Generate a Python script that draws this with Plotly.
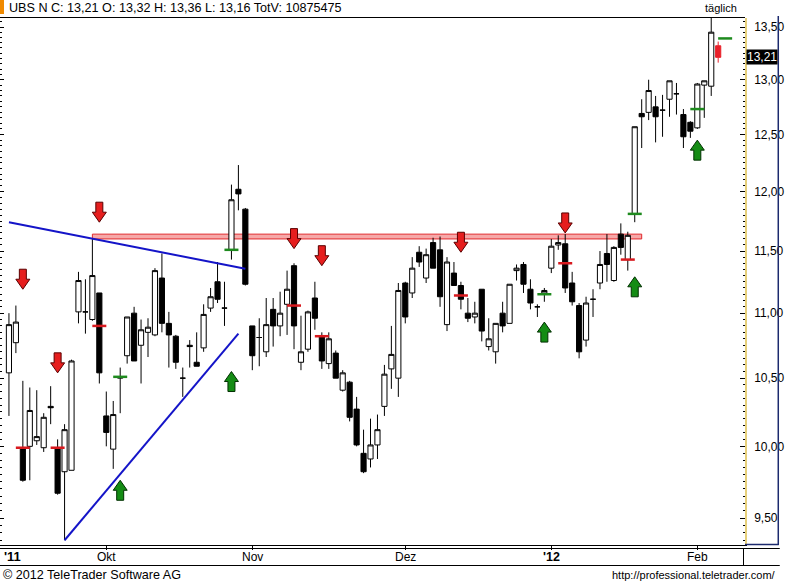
import numpy as np
import pandas as pd
import plotly.graph_objects as go

# ---------------- data ----------------
holidays = ["2011-12-26", "2012-01-02"]
dates = [d.strftime("%Y-%m-%d") for d in pd.bdate_range("2011-09-13", "2012-02-06")
         if d.strftime("%Y-%m-%d") not in holidays]

opens = [10.54, 10.77, 9.99, 10.00, 10.04, 9.99, 10.29, 9.99, 9.82, 9.83,
         11.01, 11.01, 10.95, 11.16, 10.22, 9.98, 10.50, 10.67, 11.00, 10.75,
         10.85, 10.83, 11.28, 10.92, 10.82, 10.50, 10.75, 10.62, 10.73, 11.04,
         11.25, 11.04, 11.51, 12.02, 11.85, 10.90, 10.81, 10.70, 11.03, 10.90,
         11.07, 11.38, 10.62, 10.72, 11.12, 10.82, 10.61, 10.69, 10.41, 10.47,
         10.27, 9.95, 9.91, 10.01, 10.29, 10.57, 10.50, 11.24, 11.16, 11.49,
         11.28, 11.57, 11.51, 10.91, 11.32, 11.22, 11.00, 10.97, 11.19, 10.74,
         10.70, 11.00, 10.92, 11.34, 11.39, 11.19, 11.05, 11.16, 11.36, 11.55,
         11.56, 11.24, 11.06, 10.79, 11.11, 11.24, 11.48, 11.26, 11.64, 11.43,
         11.81, 12.69, 12.70, 12.75, 12.72, 12.82, 12.87, 12.68, 12.61, 12.56,
         12.95, 12.94, 13.32]
highs = [11.00, 11.06, 10.48, 10.43, 10.41, 10.24, 10.44, 10.05, 10.16, 10.64,
         11.33, 11.27, 11.60, 11.16, 10.40, 10.33, 10.58, 10.97, 11.05, 10.95,
         10.96, 11.36, 11.48, 11.01, 10.83, 10.58, 10.79, 10.85, 11.07, 11.20,
         11.41, 11.25, 12.06, 12.23, 11.86, 10.90, 10.96, 11.12, 11.12, 11.17,
         11.34, 11.40, 10.98, 11.02, 11.25, 10.85, 10.85, 10.71, 10.56, 10.48,
         10.36, 10.12, 10.20, 10.23, 10.60, 10.90, 11.24, 11.25, 11.45, 11.54,
         11.52, 11.61, 11.62, 11.45, 11.41, 11.25, 11.12, 11.09, 11.19, 10.96,
         10.92, 11.09, 11.23, 11.39, 11.41, 11.27, 11.07, 11.20, 11.60, 11.63,
         11.64, 11.33, 11.08, 11.13, 11.19, 11.50, 11.64, 11.54, 11.73, 11.66,
         12.57, 12.82, 13.00, 12.85, 12.86, 12.99, 12.97, 12.73, 12.62, 12.97,
         12.99, 13.60, 13.36]
lows = [10.22, 10.69, 9.75, 9.76, 10.01, 9.96, 10.16, 9.66, 9.35, 9.83,
        10.92, 10.84, 10.94, 10.46, 10.00, 9.84, 10.24, 10.61, 10.63, 10.46,
        10.66, 10.82, 10.85, 10.58, 10.57, 10.36, 10.58, 10.59, 10.70, 11.01,
        11.08, 10.90, 11.43, 11.84, 11.22, 10.56, 10.59, 10.66, 10.74, 10.82,
        10.83, 10.72, 10.56, 10.70, 10.87, 10.57, 10.57, 10.50, 10.40, 10.18,
        10.00, 9.81, 9.85, 9.91, 10.22, 10.42, 10.36, 10.92, 11.12, 11.37,
        11.24, 11.36, 11.05, 10.86, 11.22, 11.03, 10.93, 10.92, 10.78, 10.71,
        10.61, 10.85, 10.92, 11.26, 11.16, 11.03, 10.97, 11.09, 11.32, 11.51,
        11.16, 11.06, 10.65, 10.74, 10.97, 11.19, 11.25, 11.25, 11.47, 11.34,
        11.74, 12.38, 12.63, 12.43, 12.48, 12.66, 12.68, 12.38, 12.47, 12.55,
        12.65, 12.85, 13.16]
closes = [10.91, 10.93, 9.76, 10.26, 10.07, 10.21, 10.28, 9.67, 10.12, 10.63,
          11.26, 11.01, 11.30, 10.54, 10.10, 10.23, 10.51, 10.97, 10.63, 10.87,
          10.89, 11.34, 10.92, 10.83, 10.62, 10.50, 10.74, 10.59, 10.99, 11.13,
          11.11, 11.04, 11.93, 11.98, 11.23, 10.67, 10.81, 10.91, 10.90, 11.00,
          11.19, 10.90, 10.70, 11.01, 10.96, 10.63, 10.80, 10.50, 10.54, 10.21,
          10.01, 9.82, 10.01, 10.12, 10.53, 10.68, 11.18, 10.97, 11.36, 11.41,
          11.47, 11.36, 11.13, 11.41, 11.22, 11.11, 10.96, 11.00, 10.86, 10.80,
          10.92, 10.90, 11.23, 11.36, 11.23, 11.08, 11.05, 11.18, 11.54, 11.57,
          11.20, 11.09, 10.70, 11.08, 11.11, 11.39, 11.39, 11.53, 11.53, 11.63,
          12.57, 12.66, 12.90, 12.66, 12.72, 12.99, 12.87, 12.48, 12.53, 12.96,
          12.99, 13.45, 13.21]

# signal dashes (sell = red, buy = green)
sell_idx = [2, 7, 13, 41, 45, 65, 80, 89]
sell_lvl = [9.99, 9.99, 10.90, 11.06, 10.82, 11.14, 11.40, 11.43]
buy_idx = [16, 32, 77, 90, 99, 103]
buy_lvl = [10.51, 11.51, 11.15, 11.81, 12.73, 13.39]

# arrows (tip price)
down_idx = [2, 7, 13, 41, 45, 65, 80]
down_tip = [11.19, 10.54, 11.74, 11.52, 11.38, 11.49, 11.65]
up_idx = [16, 32, 77, 90, 99]
up_tip = [9.76, 10.55, 10.93, 11.29, 12.45]

# trend lines and resistance band
upper_tl_x = [0, 34]
upper_tl_y = [11.74, 11.355]
lower_tl_x = [8, 33]
lower_tl_y = [9.35, 10.84]
band_x = [12, 91]
band_y = [11.60, 11.64]

month_starts = ["2011-10-03", "2011-11-01", "2011-12-01", "2012-01-03", "2012-02-01"]
month_labels = ["Okt", "Nov", "Dez", "<b>'12</b>", "Feb"]
y_ticks = [9.5, 10.0, 10.5, 11.0, 11.5, 12.0, 12.5, 13.0, 13.5]
y_ticktext = [f"{v:.2f}".replace(".", ",") for v in y_ticks]

title_text = "UBS N C: 13,21 O: 13,32 H: 13,36 L: 13,16 TotV: 10875475"

# ---------------- layout geometry ----------------
W, H = 785, 583
PL, PR, PT, PB = 0, 750, 18, 545          # plot area in pixels
pw, ph = PR - PL, PB - PT


def px_x(p):
    return (p - PL) / pw


def px_y(p):
    return (PB - p) / ph


x = list(range(len(dates)))
n = len(x)
FONT = "Liberation Sans, Arial, sans-serif"

fig = go.Figure()

# main candles (all but last)
fig.add_trace(go.Candlestick(
    x=x[:-1], open=opens[:-1], high=highs[:-1], low=lows[:-1], close=closes[:-1],
    increasing=dict(fillcolor="white", line=dict(color="black", width=1)),
    decreasing=dict(fillcolor="black", line=dict(color="black", width=1)),
    whiskerwidth=0, hoverinfo="skip", showlegend=False))
# current day candle in red
fig.add_trace(go.Candlestick(
    x=x[-1:], open=opens[-1:], high=highs[-1:], low=lows[-1:], close=closes[-1:],
    increasing=dict(fillcolor="#e8202a", line=dict(color="#e8202a", width=1)),
    decreasing=dict(fillcolor="#e8202a", line=dict(color="#e8202a", width=1)),
    whiskerwidth=0, hoverinfo="skip", showlegend=False))

# trend lines
for tx, ty in [(upper_tl_x, upper_tl_y), (lower_tl_x, lower_tl_y)]:
    fig.add_trace(go.Scatter(x=tx, y=ty, mode="lines",
                             line=dict(color="#1414c8", width=2),
                             hoverinfo="skip", showlegend=False))

# signal dashes
fig.add_trace(go.Scatter(x=sell_idx, y=sell_lvl, mode="markers",
                         marker=dict(symbol="line-ew", size=10,
                                     line=dict(color="#d8191e", width=2.5)),
                         hoverinfo="skip", showlegend=False))
fig.add_trace(go.Scatter(x=buy_idx, y=buy_lvl, mode="markers",
                         marker=dict(symbol="line-ew", size=10,
                                     line=dict(color="#1e8a1e", width=2.5)),
                         hoverinfo="skip", showlegend=False))

# dummy trace for left mirror axis
fig.add_trace(go.Scatter(x=[0], y=[11], yaxis="y2", mode="markers",
                         marker=dict(size=1, opacity=0), hoverinfo="skip",
                         showlegend=False))

shapes = []
# resistance band
shapes.append(dict(type="rect", xref="x", yref="y", x0=band_x[0], x1=band_x[1],
                   y0=band_y[0], y1=band_y[1], fillcolor="#f6a8a8",
                   line=dict(color="#e0282c", width=1), layer="below"))

down_path = "M0,0 L7,10 L3.5,10 L3.5,20 L-3.5,20 L-3.5,10 L-7,10 Z"
up_path = "M0,0 L7,-10 L3.5,-10 L3.5,-20 L-3.5,-20 L-3.5,-10 L-7,-10 Z"
for i, t in zip(down_idx, down_tip):
    shapes.append(dict(type="path", xref="x", yref="y", xsizemode="pixel",
                       ysizemode="pixel", xanchor=i, yanchor=t, path=down_path,
                       fillcolor="#e61e1e", line=dict(color="#5a0000", width=1),
                       layer="above"))
for i, t in zip(up_idx, up_tip):
    shapes.append(dict(type="path", xref="x", yref="y", xsizemode="pixel",
                       ysizemode="pixel", xanchor=i, yanchor=t, path=up_path,
                       fillcolor="#148c14", line=dict(color="#003000", width=1),
                       layer="above"))

# frame lines
blk = dict(color="black", width=1)
navy = dict(color="#1c2a6e", width=1.5)
shapes += [
    dict(type="line", xref="paper", yref="paper", x0=px_x(0), x1=px_x(750),
         y0=px_y(17.5), y1=px_y(17.5), line=blk),
    dict(type="line", xref="paper", yref="paper", x0=px_x(783.5), x1=px_x(783.5),
         y0=px_y(16), y1=px_y(545), line=navy),
    dict(type="line", xref="paper", yref="paper", x0=px_x(750), x1=px_x(784),
         y0=px_y(544.5), y1=px_y(544.5), line=navy),
    dict(type="line", xref="paper", yref="paper", x0=px_x(0), x1=px_x(785),
         y0=px_y(548.5), y1=px_y(548.5), line=blk),
    dict(type="line", xref="paper", yref="paper", x0=px_x(0), x1=px_x(785),
         y0=px_y(565.5), y1=px_y(565.5), line=blk),
    dict(type="line", xref="paper", yref="paper", x0=px_x(748.5), x1=px_x(748.5),
         y0=px_y(548.5), y1=px_y(565.5), line=blk),
    # orange marker at title
    dict(type="rect", xref="paper", yref="paper", x0=px_x(0), x1=px_x(4),
         y0=px_y(14), y1=px_y(0), fillcolor="#f08a00", line=dict(width=0)),
]

tick_pos = [dates.index(d) for d in month_starts]

annotations = [
    dict(text=title_text, xref="paper", yref="paper", x=px_x(7), y=px_y(8.5),
         xanchor="left", yanchor="middle", showarrow=False,
         font=dict(family=FONT, size=12.6, color="black")),
    dict(text="täglich", xref="paper", yref="paper", x=px_x(726), y=px_y(8),
         xanchor="center", yanchor="middle", showarrow=False,
         font=dict(family=FONT, size=11, color="black")),
    dict(text="<b>'11</b>", xref="paper", yref="paper", x=px_x(2), y=px_y(556.5),
         xanchor="left", yanchor="middle", showarrow=False,
         font=dict(family=FONT, size=13, color="black")),
    dict(text="© 2012 TeleTrader Software AG", xref="paper", yref="paper",
         x=px_x(1), y=px_y(574.5), xanchor="left", yanchor="middle", showarrow=False,
         font=dict(family=FONT, size=12.6, color="black")),
    dict(text="http://professional.teletrader.com/", xref="paper", yref="paper",
         x=px_x(783), y=px_y(574.5), xanchor="right", yanchor="middle", showarrow=False,
         font=dict(family="Liberation Sans Narrow, Arial Narrow, " + FONT, size=11,
                   color="black")),
    dict(text=f"{closes[-1]:.2f}".replace(".", ","), xref="paper", yref="y",
         x=px_x(751), y=np.log10(closes[-1]), xanchor="left", yanchor="middle",
         showarrow=False, bgcolor="black", borderpad=0,
         font=dict(family=FONT, size=12, color="white")),
]
# month labels of the date row
for pos, lab in zip(tick_pos, month_labels):
    annotations.append(dict(text=lab, xref="x", yref="paper", x=pos, y=px_y(556.5),
                            xanchor="center", yanchor="middle", showarrow=False,
                            font=dict(family=FONT, size=12.5 if "<b>" in lab else 12,
                                      color="black")))

ylog_range = [np.log10(13.5) - (PB - 27) / 3217.4, np.log10(13.5) + (27 - PT) / 3217.4]
minor_vals = [round(v, 2) for v in np.arange(9.35, 13.66, 0.05)]

fig.update_layout(
    width=W, height=H,
    margin=dict(l=PL, r=W - PR, t=PT, b=H - PB, pad=0),
    paper_bgcolor="white", plot_bgcolor="white",
    showlegend=False, boxgap=0.26, boxgroupgap=0,
    font=dict(family=FONT, size=12, color="black"),
    xaxis=dict(range=[(PL - 9) / 7, (PR - 9) / 7], showgrid=False, zeroline=False,
               rangeslider=dict(visible=False), tickmode="array",
               tickvals=tick_pos, showticklabels=False, ticks="outside",
               ticklen=4, tickcolor="black", showline=True, linecolor="black",
               linewidth=1, fixedrange=True),
    yaxis=dict(type="log", range=ylog_range, side="right", showgrid=False,
               zeroline=False, tickmode="array", tickvals=y_ticks,
               ticktext=y_ticktext, ticks="inside", ticklen=5, tickcolor="black",
               showline=True, linecolor="#e6cf7a", linewidth=1.5,
               ticklabelstandoff=5,
               tickfont=dict(family=FONT, size=12, color="black"),
               minor=dict(tickmode="array", tickvals=minor_vals, ticks="inside",
                          ticklen=2, tickcolor="black"),
               fixedrange=True),
    yaxis2=dict(type="log", range=ylog_range, overlaying="y", side="left",
                showgrid=False, zeroline=False, tickmode="array", tickvals=y_ticks,
                showticklabels=False, ticks="inside", ticklen=4, tickcolor="black",
                showline=True, linecolor="black", linewidth=1,
                minor=dict(tickmode="array", tickvals=minor_vals, ticks="inside",
                           ticklen=2, tickcolor="black"),
                fixedrange=True),
    shapes=shapes,
    annotations=annotations,
)

fig.write_html("out.html", config={"displayModeBar": False})
